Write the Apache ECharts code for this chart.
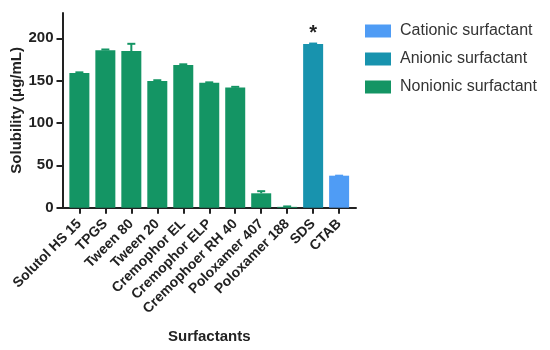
<!DOCTYPE html>
<html>
<head>
<meta charset="utf-8">
<script src="https://cdn.jsdelivr.net/npm/echarts@6/dist/echarts.min.js"></script>
<style>html,body{margin:0;padding:0;background:#fff}#c{width:550px;height:350px}</style>
</head>
<body>
<div id="c"></div>
<script>
var categories = ['Solutol HS 15','TPGS','Tween 80','Tween 20','Cremophor EL','Cremophor ELP','Cremophoer RH 40','Poloxamer 407','Poloxamer 188','SDS','CTAB'];
var values = [159, 186, 185, 149.5, 168.5, 147.5, 142, 17, 1, 193.3, 37.8];
var errors = [0.8, 0.8, 8.5, 1, 0.8, 0.5, 0.7, 2.5, 0.5, 0.5, 0];
var types = ['Nonionic','Nonionic','Nonionic','Nonionic','Nonionic','Nonionic','Nonionic','Nonionic','Nonionic','Anionic','Cationic'];
var yTicks = [0, 50, 100, 150, 200];
var groupNames = ['Cationic surfactant','Anionic surfactant','Nonionic surfactant'];
var groupKeys = ['Cationic','Anionic','Nonionic'];
var groupColors = ['#4f9cf5','#1893ae','#149564'];
var markedCategory = 'SDS';

var font = '"Liberation Sans", Arial, Helvetica, sans-serif';
var idx = categories.map(function(_, i){ return i; });

var series = groupKeys.map(function(k, gi){
  var data = [];
  idx.forEach(function(i){
    if (types[i] === k) {
      var item = {value: [i, values[i]]};
      if (categories[i] === markedCategory) {
        item.label = {show: true, position: 'top', formatter: '*', fontSize: 20, fontWeight: 'bold', color: '#222', fontFamily: font, distance: 0};
      }
      data.push(item);
    }
  });
  return {
    name: groupNames[gi], type: 'bar', barWidth: 20, barGap: '-100%',
    itemStyle: {color: groupColors[gi]}, data: data, z: 2
  };
});

series.push({
  type: 'custom', name: 'err', z: 3, silent: true,
  data: idx.map(function(i){ return [i, values[i], values[i] + errors[i]]; }),
  renderItem: function(params, api){
    var i = api.value(0);
    var color = groupColors[groupKeys.indexOf(types[i])];
    var p0 = api.coord([i, api.value(1)]);
    var p1 = api.coord([i, api.value(2)]);
    var hw = 4;
    return {type: 'group', children: [
      {type: 'line', shape: {x1: p0[0], y1: p0[1], x2: p1[0], y2: p1[1]}, style: {stroke: color, lineWidth: 2}},
      {type: 'line', shape: {x1: p1[0]-hw, y1: p1[1], x2: p1[0]+hw, y2: p1[1]}, style: {stroke: color, lineWidth: 2}}
    ]};
  }
});

var chart = echarts.init(document.getElementById('c'), null, {renderer: 'canvas'});
chart.setOption({
  animation: false,
  textStyle: {fontFamily: font},
  grid: {left: 62.5, right: 194, top: 12.9, bottom: 142.3, containLabel: false, outerBoundsMode: 'none'},
  legend: {
    data: groupNames, orient: 'vertical', left: 360, top: 18,
    itemWidth: 26, itemHeight: 13, itemGap: 12, icon: 'rect',
    textStyle: {fontSize: 16, color: '#333', fontFamily: font, padding: [0, 0, 0, 4]}
  },
  xAxis: {
    type: 'value', min: -0.65, max: 10.65,
    name: 'Surfactants', nameLocation: 'middle', nameGap: 122, nameMoveOverlap: false,
    nameTextStyle: {fontSize: 15, fontWeight: 'bold', color: '#222', fontFamily: font},
    splitLine: {show: false},
    axisLine: {show: true, onZero: false, lineStyle: {color: '#222', width: 2}},
    axisTick: {show: true, length: 6, lineStyle: {color: '#222', width: 2}, customValues: idx},
    axisLabel: {customValues: idx, rotate: 45, fontSize: 14, fontWeight: 'bold', color: '#222', margin: 14,
      formatter: function(v){ return categories[Math.round(v)] || ''; }}
  },
  yAxis: {
    type: 'value', min: 0, max: 230,
    name: 'Solubility (μg/mL)', nameLocation: 'middle', nameGap: 38, nameMoveOverlap: false,
    nameTextStyle: {fontSize: 15, fontWeight: 'bold', color: '#222', fontFamily: font},
    splitLine: {show: false},
    axisLine: {show: true, onZero: false, lineStyle: {color: '#222', width: 2}},
    axisTick: {show: true, length: 6, lineStyle: {color: '#222', width: 2}, customValues: yTicks},
    axisLabel: {customValues: yTicks, fontSize: 15, fontWeight: 'bold', color: '#222', margin: 9}
  },
  series: series
});
</script>
</body>
</html>
